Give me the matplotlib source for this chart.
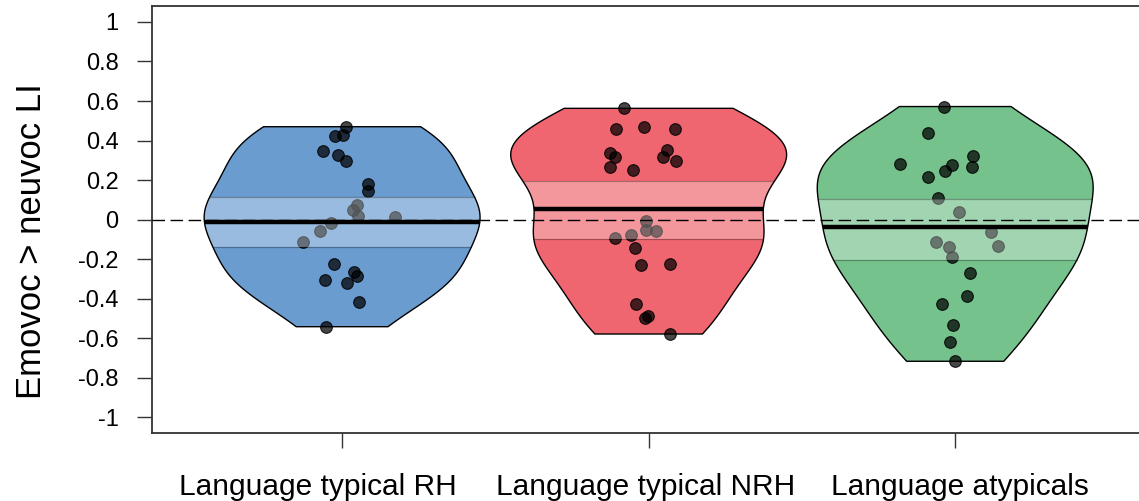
import numpy as np
import matplotlib.pyplot as plt
from matplotlib.patches import Polygon

plt.rcParams['font.family'] = ['Liberation Sans', 'DejaVu Sans']

groups = ['Language typical RH', 'Language typical NRH', 'Language atypicals']
bean_cols = ['#6A9CD0', '#F06670', '#75C28D']

# LI difference per participant
li_rh = [0.470, 0.423, 0.430, 0.349, 0.325, 0.296, 0.178, 0.144, 0.076, 0.046, 0.020,
         0.014, -0.017, -0.059, -0.115, -0.223, -0.267, -0.284, -0.305, -0.321, -0.418, -0.542]
li_nrh = [0.563, 0.457, 0.470, 0.457, 0.335, 0.316, 0.352, 0.316, 0.296, 0.266, 0.249,
          -0.005, -0.051, -0.056, -0.093, -0.080, -0.144, -0.232, -0.223, -0.428, -0.486, -0.496, -0.579]
li_atyp = [0.572, 0.439, 0.282, 0.324, 0.278, 0.248, 0.268, 0.217, 0.109, 0.037, -0.065,
           -0.133, -0.111, -0.138, -0.187, -0.272, -0.387, -0.429, -0.534, -0.618, -0.717]

# horizontal jitter of each point
jit_rh = [0.012, -0.023, 0.002, -0.063, -0.014, 0.013, 0.083, 0.083, 0.050, 0.034, 0.053,
          0.173, -0.036, -0.072, -0.129, -0.025, 0.039, 0.050, -0.056, 0.017, 0.055, -0.052]
jit_nrh = [-0.082, -0.105, -0.015, 0.087, -0.127, -0.111, 0.061, 0.047, 0.088, -0.125, -0.051,
           -0.008, -0.008, 0.025, -0.109, -0.056, -0.046, -0.024, 0.071, -0.040, -0.002, -0.013, 0.071]
jit_atyp = [-0.038, -0.090, -0.179, 0.058, -0.009, -0.032, 0.054, -0.090, -0.056, 0.013, 0.116,
            0.139, -0.063, -0.020, -0.011, 0.047, 0.038, -0.042, -0.006, -0.016, 0.0]

# group averages and inference bands
avgs = [-0.01, 0.055, -0.04]
band_lo = [-0.14, -0.10, -0.204]
band_hi = [0.113, 0.193, 0.104]

data = [li_rh, li_nrh, li_atyp]
jits = [jit_rh, jit_nrh, jit_atyp]
width_max = 0.45
# group names sit a little off their ticks
name_shift = [-0.078, -0.01, 0.016]


def bean_profile(vals, n=512, adjust=1.1):
    # gaussian density (nrd0 bandwidth), cut at the data range
    v = np.asarray(vals)
    q75, q25 = np.percentile(v, [75, 25])
    bw = adjust * 0.9 * min(v.std(ddof=1), (q75 - q25) / 1.34) * len(v) ** -0.2
    ys = np.linspace(v.min(), v.max(), n)
    dens = np.exp(-0.5 * ((ys[:, None] - v[None, :]) / bw) ** 2).sum(axis=1)
    return ys, dens / dens.max() * width_max


fig = plt.figure(figsize=(11.39, 5.01), dpi=100)
ax = fig.add_axes([0.1335, 0.1357, 0.872, 0.852])

for i, (vals, jit) in enumerate(zip(data, jits)):
    x0 = i + 1
    ys, w = bean_profile(vals)
    outline = np.concatenate([np.column_stack([x0 - w, ys]),
                              np.column_stack([x0 + w[::-1], ys[::-1]])])
    bean = Polygon(outline, closed=True, facecolor=bean_cols[i], edgecolor='none', zorder=1)
    ax.add_patch(bean)

    ax.scatter(x0 + np.asarray(jit), vals, s=70, facecolor=(0, 0, 0, 0.72),
               edgecolor=(0, 0, 0, 0.85), linewidth=0.8, zorder=2)

    band = ax.fill_between([x0 - width_max, x0 + width_max], band_lo[i], band_hi[i],
                           facecolor=(1, 1, 1, 0.32), edgecolor='none', zorder=3)
    band.set_clip_path(bean)
    for yb in (band_lo[i], band_hi[i]):
        hw = np.interp(yb, ys, w)
        ax.plot([x0 - hw, x0 + hw], [yb, yb], color=(0, 0, 0, 0.3), lw=0.9, zorder=3)

    hw = np.interp(avgs[i], ys, w)
    ax.plot([x0 - hw, x0 + hw], [avgs[i], avgs[i]], color='black', lw=3.2,
            solid_capstyle='butt', zorder=4)

    ax.add_patch(Polygon(outline, closed=True, facecolor='none', edgecolor='black',
                         lw=1.0, zorder=5))

    ax.text(x0 + name_shift[i], -1.28, groups[i], fontsize=21.5, ha='center', va='top')

ax.axhline(0, color='black', lw=1.0, dashes=(9, 4), zorder=6)

ax.set_xlim(0.38, 3.62)
ax.set_ylim(-1.08, 1.08)
ax.set_xticks([1, 2, 3])
ax.set_xticklabels([])
yt = np.round(np.arange(-1, 1.01, 0.2), 1)
ax.set_yticks(yt)
ax.set_yticklabels(['%g' % abs(t) if t == 0 else '%g' % t for t in yt], fontsize=17)
ax.tick_params(axis='y', length=11, width=1.0, pad=13, color='#333333')
ax.tick_params(axis='x', length=11, width=1.0, color='#333333')
for sp in ax.spines.values():
    sp.set_color('#333333')
    sp.set_linewidth(1.3)

ax.set_ylabel('Emovoc > neuvoc LI', fontsize=25)
ax.yaxis.set_label_coords(-0.105, 0.45)

fig.savefig('out.png', dpi=100)
